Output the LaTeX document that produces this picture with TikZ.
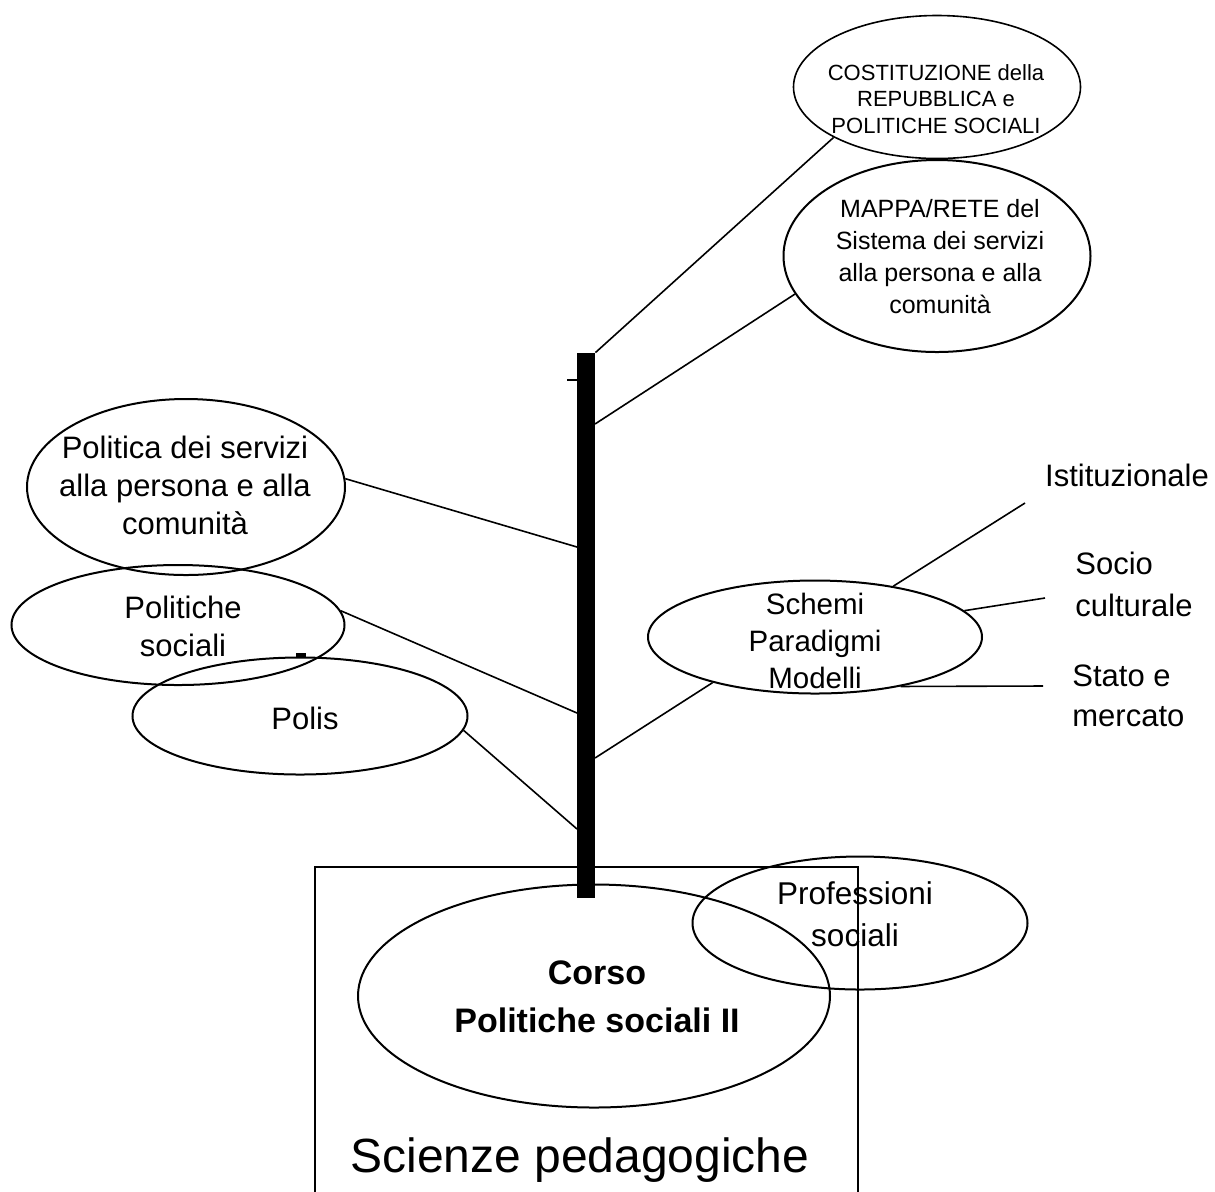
\documentclass[tikz,border=0pt]{standalone}
\usepackage{fontspec}
\setmainfont{Liberation Sans}
\usetikzlibrary{shapes.geometric}
\begin{document}
\begin{tikzpicture}[x=0.5pt,y=-0.5pt,
  oval/.style={ellipse,draw,line width=1pt,inner sep=0pt},
  link/.style={line width=0.8pt},
  txt/.style={align=center,inner sep=0pt},
  fs/.style 2 args={font=\fontsize{#1}{#2}\selectfont}]
\useasboundingbox (0,0) rectangle (1215,1191);

% frame of the faculty (open at the bottom)
\draw[line width=1pt] (315,1195) -- (315,867) -- (858,867) -- (858,1195);

% ellipses
\node[oval,line width=0.8pt,minimum width=287pt*0.5,minimum height=143pt*0.5] (cost) at (937,87) {};
\node[oval,minimum width=307pt*0.5,minimum height=192pt*0.5] (mappa) at (937,256) {};
\node[oval,minimum width=318pt*0.5,minimum height=176pt*0.5] (polser) at (186,487) {};
\node[oval,minimum width=333pt*0.5,minimum height=120pt*0.5] (polsoc) at (178,625) {};
\node[oval,minimum width=335pt*0.5,minimum height=117pt*0.5] (polis) at (300,716) {};
\node[oval,minimum width=334pt*0.5,minimum height=113pt*0.5] (schemi) at (815,637) {};
\node[oval,minimum width=472pt*0.5,minimum height=223pt*0.5] (corso) at (594,996) {};
\node[oval,minimum width=335pt*0.5,minimum height=133pt*0.5] (prof) at (860,923) {};

% the stem
\node[rectangle,fill=black,inner sep=0pt,minimum width=9pt,minimum height=272.5pt] (pole) at (586,625.5) {};
\coordinate (tickL) at (567,380);
\coordinate (tickR) at (577,380);
\coordinate (pR1) at (595,424);
\coordinate (pR2) at (595,758);
\coordinate (pL1) at (577,547);
\coordinate (pL2) at (577,713);
\coordinate (pL3) at (577,829);

% free ends of the side branches
\coordinate (eIst) at (1025,503);
\coordinate (eSoc) at (1045,598);
\coordinate (eSta) at (1043,686);

% texts
\node[txt,fs={11}{13.3}] (costT) at (936,99) {COSTITUZIONE della\\REPUBBLICA e\\POLITICHE SOCIALI};
\node[txt,fs={12.5}{16}] (mappaT) at (940,257) {MAPPA/RETE del\\Sistema dei servizi\\alla persona e alla\\comunità};
\node[txt,fs={15.5}{19}] (polserT) at (185,485) {Politica dei servizi\\alla persona e alla\\comunità};
\node[txt,fs={15.5}{19}] (polsocT) at (183,626) {Politiche\\sociali};
\node[txt,fs={15.5}{19}] (polisT) at (305,718) {Polis};
\node[txt,fs={14.75}{18.5}] (schemiT) at (815,641) {Schemi\\Paradigmi\\Modelli};
\node[txt,font=\fontsize{17}{24}\selectfont\bfseries] (corsoT) at (597,997) {Corso\\Politiche sociali II};
\node[txt,fs={15.75}{21}] (profT) at (855,914) {Professioni\\sociali};
\node[txt,fs={15.5}{19}] (istT) at (1127,475) {Istituzionale};
\node[txt,align=left,anchor=west,fs={15.5}{21}] (socT) at (1075,584) {Socio\\culturale};
\node[txt,align=left,anchor=west,fs={15.5}{20}] (staT) at (1072,696) {Stato e\\mercato};
\node[txt,fs={24}{28}] (sciT) at (580,1160) {Scienze pedagogiche};

% branches
\draw[link] (pole.north east) -- (cost.206);
\draw[link] (pR1) -- (mappa.195);
\draw[link] (tickL) -- (tickR);
\draw[link] (polser.3) -- (pL1);
\draw[link] (polsoc.5) -- (pL2);
\draw[link] (polis.355) -- (pL3);
\draw[link] (pR2) -- (schemi.204);
\draw[link] (schemi.33) -- (eIst);
\draw[link] (schemi.10) -- (eSoc);
\draw[link] (schemi.330) -- (eSta);
\draw[line width=2pt] (296,655) -- (306,655);
\end{tikzpicture}
\end{document}
